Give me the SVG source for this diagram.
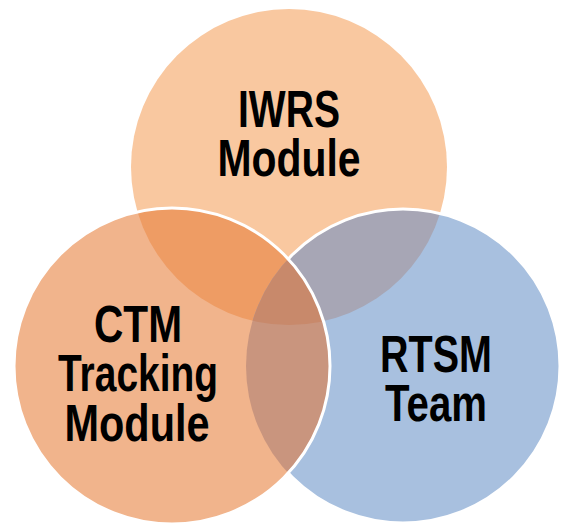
<svg xmlns="http://www.w3.org/2000/svg" width="561" height="525" viewBox="0 0 561 525">
  <style>
    .lbl { font-family: "Liberation Sans", Arial, sans-serif; font-weight: bold; font-size: 52px; fill: #000000; text-anchor: middle; }
    .edge { fill: none; stroke: #ffffff; stroke-width: 3; }
  </style>
  <defs>
    <clipPath id="clipTop"><circle cx="289" cy="167" r="158"/></clipPath>
    <clipPath id="clipLeft"><circle cx="172" cy="366" r="158"/></clipPath>
    <clipPath id="clipRight"><circle cx="403" cy="366" r="157"/></clipPath>
    <mask id="notLeft" maskUnits="userSpaceOnUse" x="0" y="0" width="561" height="525">
      <rect x="0" y="0" width="561" height="525" fill="#ffffff"/>
      <circle cx="172" cy="366" r="158" fill="#000000"/>
    </mask>
  </defs>
  <rect x="0" y="0" width="561" height="525" fill="#ffffff"/>

  <g id="node-iwrs">
    <circle cx="289" cy="167" r="158" fill="#F9C8A0"/>
  </g>
  <g id="node-rtsm">
    <circle cx="403" cy="366" r="157" fill="#A8C0DF"/>
  </g>
  <g id="node-ctm">
    <circle cx="172" cy="366" r="158" fill="#F1B48C"/>
  </g>

  <g id="overlaps">
    <g clip-path="url(#clipTop)">
      <circle cx="172" cy="366" r="158" fill="#EE9C64"/>
      <circle cx="403" cy="366" r="157" fill="#A7A6B5"/>
    </g>
    <g clip-path="url(#clipLeft)">
      <circle cx="403" cy="366" r="157" fill="#C9957E"/>
    </g>
    <g clip-path="url(#clipTop)">
      <g clip-path="url(#clipLeft)">
        <circle cx="403" cy="366" r="157" fill="#C8896B"/>
      </g>
    </g>
  </g>

  <g id="outlines">
    <circle class="edge" cx="403" cy="366" r="157" mask="url(#notLeft)"/>
    <circle class="edge" cx="172" cy="366" r="158"/>
  </g>

  <g id="labels">
    <g id="label-iwrs">
      <text class="lbl" x="289" y="127" textLength="102" lengthAdjust="spacingAndGlyphs">IWRS</text>
      <text class="lbl" x="289" y="176" textLength="143" lengthAdjust="spacingAndGlyphs">Module</text>
    </g>
    <g id="label-ctm">
      <text class="lbl" x="138" y="342" textLength="88" lengthAdjust="spacingAndGlyphs">CTM</text>
      <text class="lbl" x="138" y="391" textLength="160" lengthAdjust="spacingAndGlyphs">Tracking</text>
      <text class="lbl" x="137" y="441" textLength="145" lengthAdjust="spacingAndGlyphs">Module</text>
    </g>
    <g id="label-rtsm">
      <text class="lbl" x="436" y="372" textLength="112" lengthAdjust="spacingAndGlyphs">RTSM</text>
      <text class="lbl" x="436" y="421" textLength="102" lengthAdjust="spacingAndGlyphs">Team</text>
    </g>
  </g>
</svg>
